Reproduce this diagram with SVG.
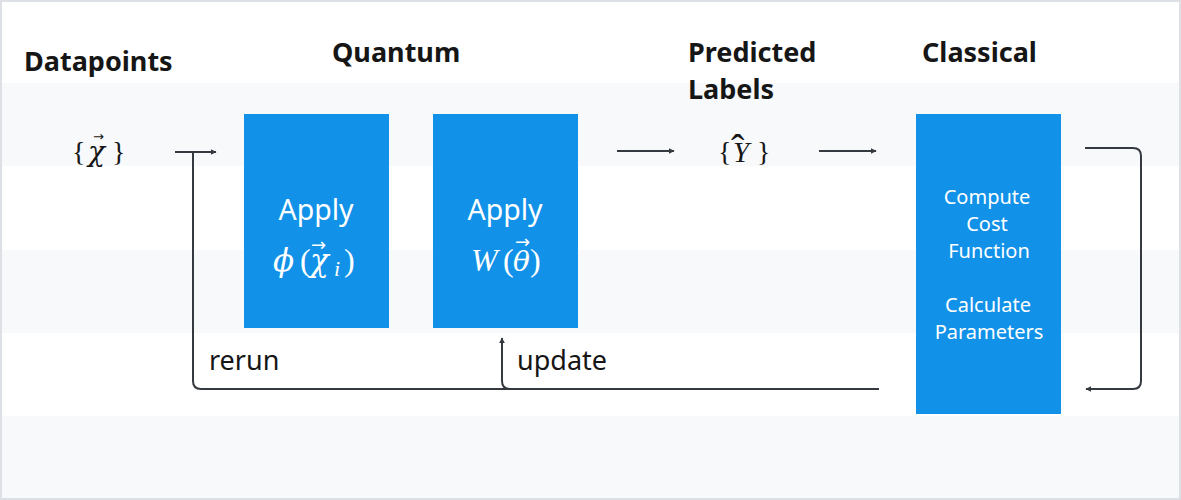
<svg xmlns="http://www.w3.org/2000/svg" width="1181" height="500" viewBox="0 0 1181 500">
<defs>
<style>
.band{fill:#f8f9fb}
.head{font-family:"Noto Sans","Open Sans",sans-serif;font-weight:700;font-size:27px;fill:#161616}
.lbl{font-family:"Noto Sans","Open Sans",sans-serif;font-size:27px;fill:#161616}
.box{fill:#1192e8}
.bt{font-family:"Noto Sans","Open Sans",sans-serif;font-size:28.5px;fill:#ffffff;text-anchor:middle}
.ct{font-family:"Noto Sans","Open Sans",sans-serif;font-size:20px;fill:#ffffff;text-anchor:middle}
.m{font-family:"Liberation Serif","DejaVu Serif",serif}
.g{font-family:"DejaVu Serif","Liberation Serif",serif;font-style:italic}
.ar{font-family:"DejaVu Sans",sans-serif}
.i{font-style:italic}
.ln{fill:none;stroke:#343a3f;stroke-width:2}
</style>
<marker id="ah" viewBox="0 0 10 10" refX="9" refY="5" markerWidth="6" markerHeight="6" markerUnits="userSpaceOnUse" orient="auto">
<path d="M0,0 L10,5 L0,10 z" fill="#343a3f"/>
</marker>
</defs>
<rect x="0" y="0" width="1181" height="500" fill="#ffffff"/>
<rect class="band" x="0" y="83" width="1181" height="83"/>
<rect class="band" x="0" y="250" width="1181" height="83"/>
<rect class="band" x="0" y="416" width="1181" height="84"/>
<rect x="1" y="1" width="1179" height="498" fill="none" stroke="#dde1e6" stroke-width="2"/>

<g id="headers">
<text class="head" x="24" y="71">Datapoints</text>
<text class="head" x="332" y="62">Quantum</text>
<text class="head" x="688" y="62">Predicted</text>
<text class="head" x="688" y="99">Labels</text>
<text class="head" x="922" y="62">Classical</text>
</g>

<g id="datapoints">
<text class="m" fill="#161616" font-size="28"><tspan x="72" y="161">{</tspan><tspan class="g" x="88" y="161">χ</tspan><tspan class="ar" x="93" y="141" font-size="13">→</tspan><tspan x="112" y="161">}</tspan></text>
</g>

<g id="apply-phi">
<rect class="box" x="244" y="114" width="145" height="214"/>
<text class="bt" x="316" y="220">Apply</text>
<text class="m" fill="#ffffff" font-size="32"><tspan class="g" x="273" y="271" font-size="31">ϕ</tspan><tspan x="300" y="271">(</tspan><tspan class="g" x="310" y="271" font-size="31">χ</tspan><tspan class="ar" x="311" y="251" font-size="18">→</tspan><tspan class="i" x="334" y="276" font-size="22">i</tspan><tspan x="344" y="271">)</tspan></text>
</g>

<g id="apply-w">
<rect class="box" x="433" y="114" width="145" height="214"/>
<text class="bt" x="505" y="220">Apply</text>
<text class="m" fill="#ffffff" font-size="32"><tspan class="i" x="471" y="271">W</tspan><tspan x="503" y="271">(</tspan><tspan class="g" x="513" y="271" font-size="28">θ</tspan><tspan class="ar" x="515" y="248" font-size="18">→</tspan><tspan x="530" y="271">)</tspan></text>
</g>

<g id="predicted">
<text class="m" fill="#161616" font-size="28"><tspan x="718" y="161">{</tspan><tspan class="i" x="733" y="162" font-size="29">Y</tspan><tspan x="731" y="162" font-size="40">ˆ</tspan><tspan x="757" y="161">}</tspan></text>
</g>

<g id="classical">
<rect class="box" x="916" y="114" width="145" height="300"/>
<text class="ct" x="987" y="204">Compute</text>
<text class="ct" x="987" y="231">Cost</text>
<text class="ct" x="989" y="258">Function</text>
<text class="ct" x="988" y="312">Calculate</text>
<text class="ct" x="989" y="339">Parameters</text>
</g>

<g id="labels">
<text class="lbl" x="209" y="370">rerun</text>
<text class="lbl" x="517" y="370">update</text>
</g>

<g id="connectors">
<path class="ln" d="M175,152 H216" marker-end="url(#ah)"/>
<path class="ln" d="M617,151 H674" marker-end="url(#ah)"/>
<path class="ln" d="M819,151 H876" marker-end="url(#ah)"/>
<path class="ln" d="M879,389 H201 Q193,389 193,381 V152"/>
<path class="ln" d="M510,389 Q502,389 502,381 V338" marker-end="url(#ah)"/>
<path class="ln" d="M1085,148 H1133 Q1141,148 1141,156 V381 Q1141,389 1133,389 H1086" marker-end="url(#ah)"/>
</g>
</svg>
